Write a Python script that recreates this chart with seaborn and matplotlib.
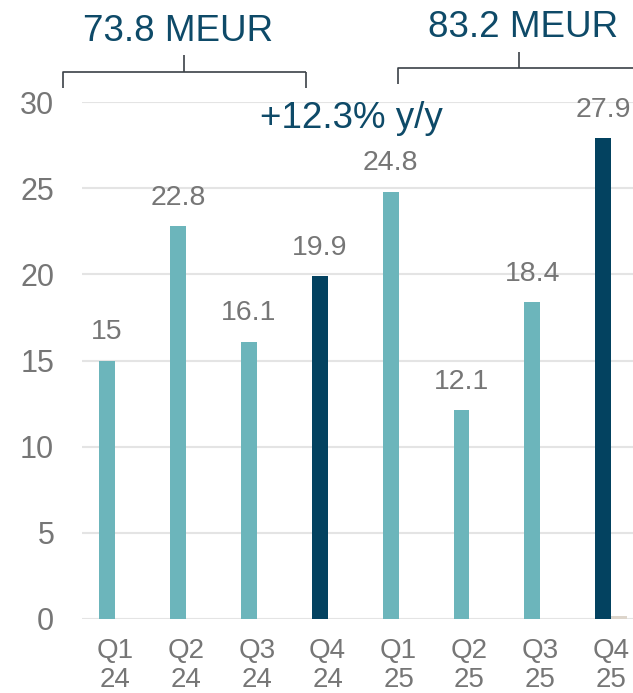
import matplotlib
matplotlib.use("Agg")
import matplotlib.pyplot as plt
import seaborn as sns
import pandas as pd
from matplotlib.lines import Line2D

# Quarterly figures (MEUR)
quarters = ["Q1\n24", "Q2\n24", "Q3\n24", "Q4\n24", "Q1\n25", "Q2\n25", "Q3\n25", "Q4\n25"]
values = [15, 22.8, 16.1, 19.9, 24.8, 12.1, 18.4, 27.9]
other = [0, 0, 0, 0, 0, 0, 0, 0.15]
yticks = [0, 5, 10, 15, 20, 25, 30]

# Annotations
total_2024 = "73.8 MEUR"
total_2025 = "83.2 MEUR"
growth = "+12.3% y/y"

TEAL = "#6cb5bb"
NAVY = "#034260"
BEIGE = "#ddd5cb"
GREY = "#767676"
TITLE = "#0e4a68"
BRACKET = "#3b4147"
GRID = "#e4e4e4"

bar_colors = [NAVY if q.startswith("Q4") else TEAL for q in quarters]

df = pd.DataFrame({
    "quarter": quarters * 2,
    "value": values + other,
    "series": ["main"] * len(quarters) + ["other"] * len(quarters),
})

sns.set_theme(style="white")
plt.rcParams["font.family"] = ["Liberation Sans", "DejaVu Sans"]

W, H = 633, 693
fig = plt.figure(figsize=(W / 100, H / 100), dpi=100)


def fx(x):
    return x / W


def fy(y):
    return 1 - y / H


ax = fig.add_axes([fx(82), fy(619), fx(633) - fx(82), fy(102) - fy(619)])

sns.barplot(
    data=df, x="quarter", y="value", hue="series",
    palette={"main": TEAL, "other": BEIGE},
    width=0.45, dodge=True, saturation=1, errorbar=None,
    legend=False, ax=ax, zorder=3,
)
for patch, c in zip(ax.containers[0], bar_colors):
    patch.set_facecolor(c)
    patch.set_edgecolor("none")
for patch in ax.containers[1]:
    patch.set_edgecolor("none")

ax.bar_label(ax.containers[0], labels=[f"{v:g}" for v in values],
             padding=11, fontsize=20.5, color=GREY)

ax.set_ylim(0, 30)
ax.set_xlim(-0.465, 7.306)
ax.set_yticks(yticks)
ax.set_xlabel("")
ax.set_ylabel("")
ax.set_axisbelow(True)
ax.yaxis.grid(True, color=GRID, linewidth=1.5)
for s in ax.spines.values():
    s.set_visible(False)
ax.tick_params(axis="y", length=0, pad=20, labelsize=22, labelcolor=GREY)
ax.tick_params(axis="x", length=0, pad=14, labelsize=20, labelcolor=GREY)
for lbl in ax.get_xticklabels():
    lbl.set_linespacing(1.12)


def bracket(x0, x1, y, drop, xc, rise):
    kw = dict(transform=fig.transFigure, color=BRACKET, linewidth=1.2,
              clip_on=False, solid_capstyle="butt")
    fig.add_artist(Line2D([fx(x0), fx(x0), fx(x1)], [fy(y + drop), fy(y), fy(y)], **kw))
    if x1 < W:
        fig.add_artist(Line2D([fx(x1), fx(x1)], [fy(y), fy(y + drop)], **kw))
    fig.add_artist(Line2D([fx(xc), fx(xc)], [fy(y), fy(y - rise)], **kw))


bracket(63, 306, 72, 16, 184, 17)
bracket(398, 640, 68, 16, 519, 16)

fig.text(fx(178), fy(41), total_2024, ha="center", va="baseline", fontsize=26.5, color=TITLE)
fig.text(fx(523), fy(37), total_2025, ha="center", va="baseline", fontsize=26.5, color=TITLE)
fig.text(fx(351), fy(128), growth, ha="center", va="baseline", fontsize=26.5, color=TITLE)

fig.savefig("out.png", dpi=100)
